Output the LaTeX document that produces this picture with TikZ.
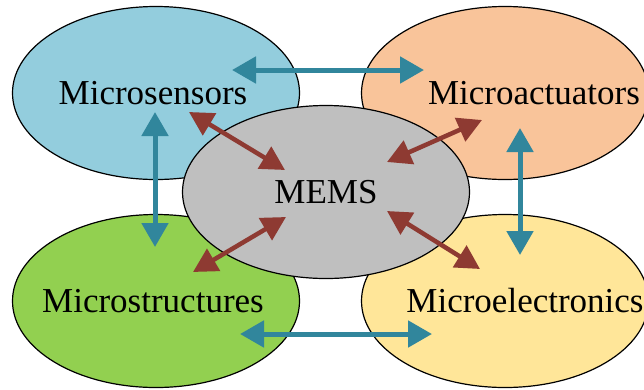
\documentclass[tikz,border=0pt]{standalone}
\usepackage{fontspec}
\setmainfont{Liberation Serif}
\usetikzlibrary{shapes.geometric, arrows.meta, positioning}
\definecolor{sensblue}{HTML}{93CDDD}
\definecolor{actpeach}{HTML}{F9C49A}
\definecolor{structgreen}{HTML}{92D050}
\definecolor{elecyellow}{HTML}{FFE699}
\definecolor{memsgrey}{HTML}{BFBFBF}
\definecolor{linkblue}{HTML}{31869C}
\definecolor{tiered}{HTML}{8E3A32}

\begin{document}
\begin{tikzpicture}[x=1pt, y=-1pt,
    blob/.style={ellipse, draw=black, line width=1.2pt, minimum width=287pt, minimum height=173pt, inner sep=0pt},
    lbl/.style={font=\fontsize{35}{40}\selectfont, inner sep=0pt},
    link/.style={draw=linkblue, line width=5pt, {Triangle[length=24pt,width=26pt]}-{Triangle[length=24pt,width=26pt]}},
    tie/.style={draw=tiered, line width=4.5pt, {Triangle[length=24pt,width=25pt]}-{Triangle[length=24pt,width=25pt]}}]
  \useasboundingbox (0,0) rectangle (644,389);

  % outer ellipses
  \node[blob, fill=sensblue] (sens) at (156,93) {};
  \node[blob, fill=actpeach] (act) at (505,93) {};
  \node[blob, fill=structgreen] (struct) at (156,301) {};
  \node[blob, fill=elecyellow] (elec) at (505,301) {};
  % centre
  \node[blob, fill=memsgrey] (mems) at (326,192) {};

  % labels
  \node[lbl] (sens-t) at (153,93) {Microsensors};
  \node[lbl] (act-t) at (534,93) {Microactuators};
  \node[lbl] (struct-t) at (153,301) {Microstructures};
  \node[lbl] (elec-t) at (525,301) {Microelectronics};
  \node[lbl] (mems-t) at (326,192) {MEMS};

  % arrow ends
  \coordinate (top-l) at (232,70);
  \coordinate (top-r) at (424,70);
  \coordinate (bot-l) at (240,334);
  \coordinate (bot-r) at (432,334);
  \coordinate (left-t) at (155,112);
  \coordinate (left-b) at (155,247);
  \coordinate (right-t) at (520,128);
  \coordinate (right-b) at (520,255);
  \coordinate (sm-a) at (189,112);
  \coordinate (sm-b) at (285,170);
  \coordinate (am-a) at (482,120);
  \coordinate (am-b) at (387,162);
  \coordinate (tm-a) at (193,272);
  \coordinate (tm-b) at (286,217);
  \coordinate (em-a) at (387,211);
  \coordinate (em-b) at (480,269);

  \draw[link] (top-l) -- (top-r);
  \draw[link] (bot-l) -- (bot-r);
  \draw[link] (left-t) -- (left-b);
  \draw[link] (right-t) -- (right-b);
  \draw[tie] (sm-a) -- (sm-b);
  \draw[tie] (am-a) -- (am-b);
  \draw[tie] (tm-a) -- (tm-b);
  \draw[tie] (em-a) -- (em-b);
\end{tikzpicture}
\end{document}
